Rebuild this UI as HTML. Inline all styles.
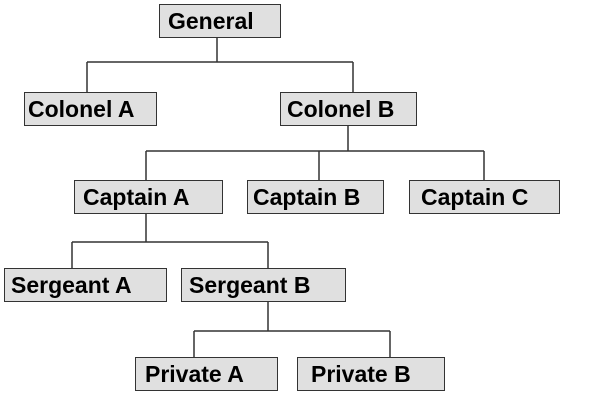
<!DOCTYPE html><html><head><style>
body{margin:0;width:600px;height:419px;background:#fff;position:relative;overflow:hidden;font-family:"Liberation Sans",sans-serif}
.b{position:absolute;box-sizing:border-box;background:#e0e0e0;border:1.5px solid #333;font-weight:bold;font-size:23px;line-height:33px;padding-left:8px;color:#000;white-space:nowrap}
svg{position:absolute;left:0;top:0}
</style></head><body>
<svg width="600" height="419"><g stroke="#333" stroke-width="1.5" fill="none">
<path d="M217 37V62M87 62H353M87 62V92M353 62V92"/>
<path d="M348 125V151M146 151H484M146 151V180M319 151V180M484 151V180"/>
<path d="M146 213V242M72 242H268M72 242V268M268 242V268"/>
<path d="M268 302V331M194 331H390M194 331V357M390 331V357"/>
</g></svg>
<div class="b" style="left:159px;top:4px;width:122px;height:34px">General</div>
<div class="b" style="left:24px;top:92px;width:133px;height:34px;padding-left:3px">Colonel A</div>
<div class="b" style="left:280px;top:92px;width:137px;height:34px;padding-left:6px">Colonel B</div>
<div class="b" style="left:74px;top:180px;width:149px;height:34px">Captain A</div>
<div class="b" style="left:247px;top:180px;width:137px;height:34px;padding-left:5px">Captain B</div>
<div class="b" style="left:409px;top:180px;width:151px;height:34px;padding-left:11px">Captain C</div>
<div class="b" style="left:4px;top:268px;width:163px;height:34px;padding-left:6px">Sergeant A</div>
<div class="b" style="left:181px;top:268px;width:165px;height:34px;padding-left:7px">Sergeant B</div>
<div class="b" style="left:135px;top:357px;width:143px;height:34px;padding-left:9px">Private A</div>
<div class="b" style="left:297px;top:357px;width:148px;height:34px;padding-left:13px">Private B</div>
</body></html>
